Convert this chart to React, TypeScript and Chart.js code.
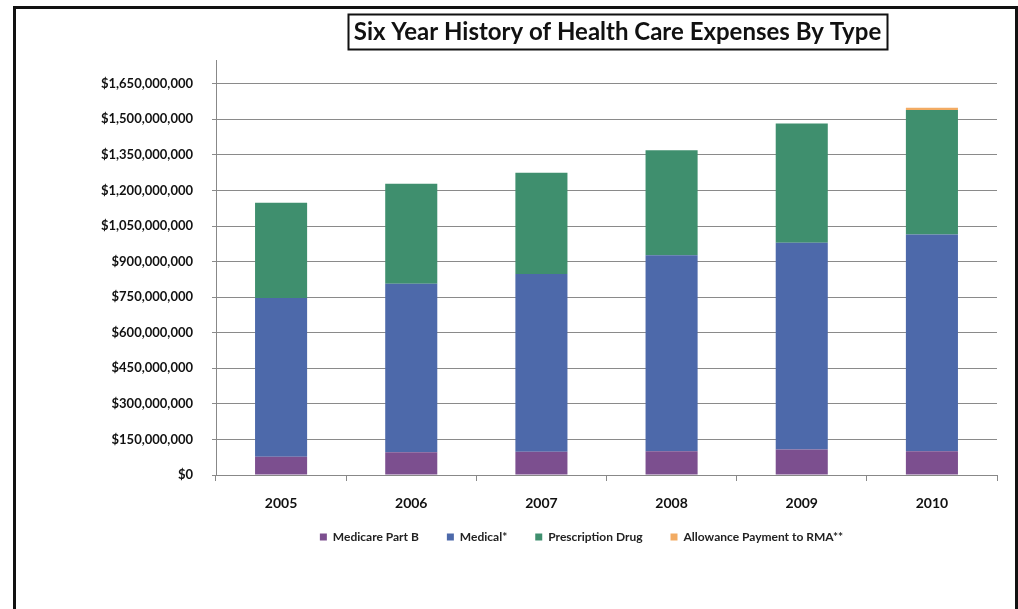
import React, { useEffect, useRef } from "react";
import { Chart, registerables } from "chart.js";

Chart.register(...registerables);

const years = ["2005", "2006", "2007", "2008", "2009", "2010"];
const medicarePartB = [77e6, 96e6, 98e6, 100e6, 108e6, 100e6];
const medical = [669e6, 710e6, 750e6, 827e6, 871e6, 914e6];
const prescriptionDrug = [402e6, 422e6, 427e6, 442e6, 503e6, 525e6];
const allowanceRMA = [0, 0, 0, 0, 0, 10e6];
const seriesNames = ["Medicare Part B", "Medical*", "Prescription Drug", "Allowance Payment to RMA**"];
const seriesColors = ["#7c4f8f", "#4d69aa", "#3f8f6e", "#f2ab63"];
const yTickValues = [0, 150e6, 300e6, 450e6, 600e6, 750e6, 900e6, 1050e6, 1200e6, 1350e6, 1500e6, 1650e6];
const yAxisMax = 1750e6;
const titleText = "Six Year History of Health Care Expenses By Type";

const FONT = "Lato, 'Liberation Sans', sans-serif";

const titleBox = {
  id: "titleBox",
  afterDraw(chart: any) {
    const ctx = chart.ctx;
    ctx.save();
    ctx.font = `bold 24px ${FONT}`;
    const w = ctx.measureText(titleText).width;
    const cx = 617.5;
    const cy = 32;
    ctx.fillStyle = "#111";
    ctx.textAlign = "center";
    ctx.textBaseline = "middle";
    ctx.fillText(titleText, cx, cy);
    ctx.lineWidth = 2;
    ctx.strokeStyle = "#111";
    ctx.strokeRect(Math.round(cx - w / 2 - 6) + 0.5, 14.5, Math.round(w + 12), 35);
    ctx.restore();
  },
};

const legendShift = {
  id: "legendShift",
  afterLayout(chart: any) {
    const lg = chart.legend;
    if (lg) {
      lg.left -= 25;
      lg.right -= 25;
      lg.top -= 8;
      lg.bottom -= 8;
    }
  },
};

export default function App() {
  const ref = useRef<HTMLCanvasElement | null>(null);

  useEffect(() => {
    let chart: Chart | null = null;
    let cancelled = false;
    const make = () => {
      if (cancelled || !ref.current) return;
      chart = new Chart(ref.current, {
        type: "bar",
        data: {
          labels: years,
          datasets: [
            { label: seriesNames[0], data: medicarePartB, backgroundColor: seriesColors[0] },
            { label: seriesNames[1], data: medical, backgroundColor: seriesColors[1] },
            { label: seriesNames[2], data: prescriptionDrug, backgroundColor: seriesColors[2] },
            { label: seriesNames[3], data: allowanceRMA, backgroundColor: seriesColors[3] },
          ],
        },
        options: {
          animation: false,
          responsive: false,
          maintainAspectRatio: false,
          devicePixelRatio: 1,
          datasets: { bar: { categoryPercentage: 0.4, barPercentage: 1, borderWidth: 0 } },
          layout: { padding: { top: 60, right: 21, bottom: 48, left: 0 } },
          plugins: {
            title: { display: false },
            tooltip: { enabled: false },
            legend: {
              position: "bottom",
              fullSize: false,
              labels: {
                boxWidth: 7,
                boxHeight: 7,
                padding: 28,
                color: "#222",
                font: { family: FONT, size: 12, weight: "bold" },
              },
            },
          },
          scales: {
            x: {
              stacked: true,
              offset: true,
              grid: {
                display: true,
                drawOnChartArea: false,
                drawTicks: true,
                tickLength: 6,
                color: "#888",
                offset: true,
              },
              border: { display: true, color: "#888", width: 1 },
              ticks: {
                color: "#111",
                padding: 14,
                font: { family: FONT, size: 14, weight: "bold" },
              },
              afterFit(scale: any) {
                scale.height = 36;
              },
            },
            y: {
              stacked: true,
              min: 0,
              max: yAxisMax,
              grid: {
                color: "#8a8a8a",
                lineWidth: 1,
                tickLength: 4,
                drawTicks: true,
              },
              border: { display: true, color: "#888", width: 1 },
              ticks: {
                color: "#111",
                padding: 19,
                font: { family: FONT, size: 13, weight: "bold" },
                callback: (v: any) => "$" + Number(v).toLocaleString("en-US"),
              },
              afterBuildTicks(scale: any) {
                scale.ticks = yTickValues.map((value) => ({ value }));
              },
              afterFit(scale: any) {
                scale.width = 216;
              },
            },
          },
        },
        plugins: [titleBox, legendShift],
      });
    };
    const fontsReady = (document as any).fonts
      ? Promise.all([
          (document as any).fonts.load(`bold 13px Lato`),
          (document as any).fonts.load(`bold 24px Lato`),
        ]).catch(() => null)
      : Promise.resolve(null);
    fontsReady.then(make);
    return () => {
      cancelled = true;
      if (chart) chart.destroy();
    };
  }, []);

  return (
    <div style={{ position: "fixed", left: 0, top: 0, width: 1018, height: 609, background: "#fff", overflow: "hidden" }}>
      <div
        style={{
          position: "absolute",
          left: 13,
          top: 6,
          width: 1018 - 13 - 6,
          height: 700,
          borderLeft: "3px solid #111",
          borderTop: "3px solid #111",
          borderRight: "3px solid #111",
        }}
      />
      <canvas ref={ref} width={1018} height={609} style={{ position: "absolute", left: 0, top: 0, width: 1018, height: 609 }} />
    </div>
  );
}
